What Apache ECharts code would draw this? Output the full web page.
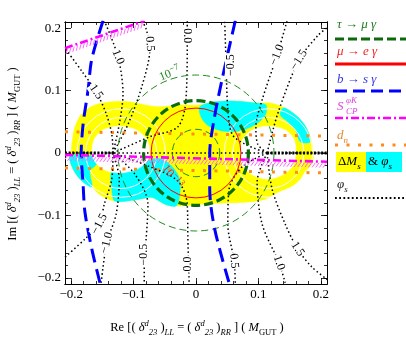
<!DOCTYPE html>
<html>
<head>
<meta charset="utf-8">
<script src="https://cdn.jsdelivr.net/npm/echarts@6/dist/echarts.min.js"></script>
<style>
  html, body { margin: 0; padding: 0; background: #fff; }
  #chart { width: 406px; height: 343px; }
</style>
</head>
<body>
<div id="chart"></div>
<script>
// axis ticks
const majorTicks = [-0.2, -0.1, 0, 0.1, 0.2]
const minorTicks = [-0.2, -0.18, -0.16, -0.14, -0.12, -0.1, -0.08, -0.06, -0.04, -0.02, 0,
  0.02, 0.04, 0.06, 0.08, 0.1, 0.12, 0.14, 0.16, 0.18, 0.2]

// Delta M_s allowed region (yellow) and Delta M_s & phi_s (cyan)
const yellowOutline = [[-0.200, 0], [-0.199, 0.014], [-0.194, 0.042], [-0.183, 0.063], [-0.162, 0.077],
  [-0.135, 0.082], [-0.107, 0.082], [-0.082, 0.077], [-0.058, 0.074], [-0.026, 0.077], [0.006, 0.077],
  [0.030, 0.082], [0.066, 0.083], [0.095, 0.080], [0.119, 0.080], [0.143, 0.072], [0.162, 0.059],
  [0.176, 0.042], [0.184, 0.022], [0.188, 0], [0.186, -0.018], [0.175, -0.029], [0.167, -0.042],
  [0.154, -0.053], [0.131, -0.063], [0.111, -0.074], [0.079, -0.079], [0.046, -0.080], [0.006, -0.082],
  [-0.029, -0.085], [-0.050, -0.082], [-0.071, -0.071], [-0.091, -0.074], [-0.130, -0.077],
  [-0.154, -0.067], [-0.167, -0.054], [-0.183, -0.045], [-0.197, -0.026], [-0.202, -0.010]]
const cyanUpperMid = [[0.006, 0.074], [0.030, 0.082], [0.066, 0.083], [0.095, 0.080], [0.112, 0.077],
  [0.112, 0.063], [0.099, 0.048], [0.079, 0.038], [0.058, 0.034], [0.035, 0.037], [0.018, 0.045], [0.008, 0.058]]
const cyanRightEdge = [[0.143, 0.072], [0.162, 0.059], [0.176, 0.042], [0.183, 0.018], [0.167, 0.018],
  [0.159, 0.038], [0.146, 0.051], [0.135, 0.061], [0.138, 0.071]]
const cyanLeftEdge = [[-0.202, -0.005], [-0.165, -0.005], [-0.160, -0.018], [-0.170, -0.029],
  [-0.167, -0.054], [-0.183, -0.045], [-0.197, -0.026]]
const cyanLowerMid = [[-0.135, -0.029], [-0.114, -0.022], [-0.090, -0.018], [-0.071, -0.010],
  [-0.054, -0.010], [-0.038, -0.022], [-0.026, -0.042], [-0.026, -0.066], [-0.032, -0.085],
  [-0.050, -0.082], [-0.071, -0.071], [-0.091, -0.074], [-0.130, -0.077], [-0.135, -0.058]]
// white holes of the two lobes
const holeLeft = [[-0.167, 0], [-0.163, 0.022], [-0.149, 0.037], [-0.125, 0.043], [-0.098, 0.038],
  [-0.079, 0.022], [-0.074, 0], [-0.079, -0.014], [-0.095, -0.026], [-0.122, -0.032], [-0.147, -0.027], [-0.162, -0.014]]
const holeRight = [[0.071, 0], [0.075, 0.022], [0.090, 0.037], [0.115, 0.043], [0.143, 0.037],
  [0.157, 0.022], [0.160, 0], [0.155, -0.021], [0.139, -0.035], [0.115, -0.042], [0.090, -0.035], [0.075, -0.021]]
// white Delta M_s contours [cx, cy, r]
const regionContours = [[-0.120, 0, 0.057], [-0.120, 0, 0.071], [0.116, 0, 0.057], [0.116, 0, 0.071]]

// tau -> mu gamma and mu -> e gamma circles [cx, cy, r]
const tauMuThin = [[0, 0, 0.038], [0, 0, 0.125]]
const tauMuThick = [[0, 0, 0.084]]
const muEGamma = [[0, 0, 0.072]]

// b -> s gamma
const bsgLeft = [[-0.149, 0.212], [-0.167, 0.151], [-0.173, 0.101], [-0.181, 0.046], [-0.184, 0],
  [-0.181, -0.050], [-0.178, -0.095], [-0.167, -0.154], [-0.154, -0.208]]
const bsgRight = [[0.063, 0.212], [0.042, 0.119], [0.029, 0.054], [0.022, 0], [0.022, -0.058],
  [0.030, -0.122], [0.053, -0.208]]

// S_CP^phiK bounds
const scpMain = [[-0.21, -0.003], [0.21, -0.014]]
const scpCorner = [[-0.210, 0.168], [-0.082, 0.212]]

// d_n bounds
const dnUpper = [[-0.21, 0.034], [0.21, 0.027]]
const dnLower = [[-0.21, -0.024], [0.21, -0.032]]

// phi_s contours
const phiAxis = [[-0.21, 0], [0.21, 0]]
const phiAxisLeft = [[-0.21, 0], [-0.133, 0]]
const phiAxisRight = [[0.114, 0], [0.21, 0]]
const phiContours = [
  [[-0.133, 0], [-0.135, 0.030], [-0.144, 0.063], [-0.160, 0.098], [-0.183, 0.131], [-0.210, 0.168]],
  [[-0.133, 0], [-0.123, 0.046], [-0.117, 0.095], [-0.125, 0.154], [-0.147, 0.212]],
  [[-0.133, 0], [-0.109, 0.046], [-0.087, 0.106], [-0.074, 0.167], [-0.080, 0.199], [-0.087, 0.212]],
  [[-0.133, 0], [-0.074, 0.026], [-0.029, 0.042], [-0.016, 0.087], [-0.014, 0.188], [-0.014, 0.212]],
  [[0.114, 0], [0.079, 0.014], [0.058, 0.030], [0.051, 0.071], [0.048, 0.151], [0.046, 0.212]],
  [[0.114, 0], [0.099, 0.014], [0.096, 0.042], [0.106, 0.085], [0.130, 0.157], [0.146, 0.212]],
  [[0.114, 0], [0.131, 0.063], [0.165, 0.149], [0.196, 0.189], [0.212, 0.202]],
  [[-0.133, 0], [-0.135, -0.042], [-0.147, -0.082], [-0.155, -0.114], [-0.178, -0.138], [-0.210, -0.167]],
  [[-0.133, 0], [-0.123, -0.042], [-0.128, -0.098], [-0.143, -0.144], [-0.152, -0.208]],
  [[-0.133, 0], [-0.098, -0.034], [-0.077, -0.082], [-0.080, -0.138], [-0.083, -0.163], [-0.083, -0.208]],
  [[-0.133, 0], [-0.074, -0.022], [-0.029, -0.045], [-0.014, -0.082], [-0.013, -0.138], [-0.011, -0.208]],
  [[0.114, 0], [0.074, -0.022], [0.053, -0.058], [0.051, -0.114], [0.061, -0.173], [0.063, -0.208]],
  [[0.114, 0], [0.098, -0.046], [0.106, -0.114], [0.133, -0.176], [0.143, -0.208]],
  [[0.114, 0], [0.122, -0.058], [0.143, -0.114], [0.163, -0.154], [0.186, -0.183], [0.212, -0.204]]
]
const phiLabelText = ['1.5', '1.0', '0.5', '0.0', '−0.5', '−1.0', '−1.5',
  '−1.5', '−1.0', '−0.5', '0.0', '0.5', '1.0', '1.5']
const phiLabelPos = [[-0.160, 0.098], [-0.125, 0.154], [-0.074, 0.175], [-0.014, 0.188],
  [0.056, 0.141], [0.130, 0.157], [0.165, 0.149],
  [-0.155, -0.114], [-0.143, -0.144], [-0.083, -0.163], [-0.013, -0.178],
  [0.061, -0.173], [0.133, -0.176], [0.163, -0.154]]
const phiLabelAngle = [-55, -68, -84, -90, 90, 68, 58, 62, 75, 90, 90, -85, -70, -57]

const serif = '"Liberation Serif", "DejaVu Serif", serif'

const chart = echarts.init(document.getElementById('chart'))

function fmtTick (v) {
  if (v === 0) return '0'
  return (v < 0 ? '−' : '') + Math.abs(v).toFixed(1)
}

function axis (pos, ticks, len, showLabel) {
  return {
    type: 'value',
    position: pos,
    min: -0.21,
    max: 0.21,
    axisLine: { show: true, onZero: false, lineStyle: { color: '#000', width: 1 } },
    splitLine: { show: false },
    axisTick: { show: true, inside: true, length: len, customValues: ticks, lineStyle: { color: '#000', width: 0.8 } },
    axisLabel: {
      show: showLabel,
      customValues: majorTicks,
      formatter: fmtTick,
      margin: 4,
      color: '#000',
      fontFamily: serif,
      fontSize: 13
    }
  }
}

function polygonSeries (pts, color, z) {
  return {
    type: 'custom',
    coordinateSystem: 'cartesian2d',
    clip: true,
    silent: true,
    z: z,
    data: [pts[0]],
    renderItem: (params, api) => ({
      type: 'polygon',
      shape: { points: pts.map(p => api.coord(p)), smooth: 0.3 },
      style: { fill: color, stroke: color, lineWidth: 0.5 }
    })
  }
}

function circleSeries (circles, fill, stroke, width, dash, z) {
  return {
    type: 'custom',
    coordinateSystem: 'cartesian2d',
    clip: true,
    silent: true,
    z: z,
    data: circles,
    renderItem: (params, api) => {
      const c = api.coord([api.value(0), api.value(1)])
      const r = api.size([api.value(2), 0])[0]
      return {
        type: 'circle',
        shape: { cx: c[0], cy: c[1], r: r },
        style: { fill: fill, stroke: stroke, lineWidth: width, lineDash: dash }
      }
    }
  }
}

function lineSeries (pts, color, width, dash, cap, z, smooth) {
  return {
    type: 'line',
    data: pts,
    symbol: 'none',
    smooth: smooth || false,
    silent: true,
    clip: true,
    z: z,
    lineStyle: { color: color, width: width, type: dash, cap: cap }
  }
}

function hatchSeries (seg, z) {
  return {
    type: 'custom',
    coordinateSystem: 'cartesian2d',
    clip: true,
    silent: true,
    z: z,
    data: [seg[0]],
    renderItem: (params, api) => {
      const a = api.coord(seg[0])
      const b = api.coord(seg[1])
      const dx = b[0] - a[0]
      const dy = b[1] - a[1]
      const L = Math.hypot(dx, dy)
      const ux = dx / L
      const uy = dy / L
      let nx = -uy
      let ny = ux
      if (ny < 0) { nx = -nx; ny = -ny }
      const children = []
      for (let s = 2; s < L; s += 3.6) {
        const px = a[0] + ux * s
        const py = a[1] + uy * s
        children.push({
          type: 'line',
          shape: { x1: px + nx * 1.5, y1: py + ny * 1.5, x2: px + nx * 6 - ux * 3, y2: py + ny * 6 - uy * 3 },
          style: { stroke: '#ff66ff', lineWidth: 1 }
        })
      }
      return { type: 'group', children: children }
    }
  }
}

const dotted = [1.5, 2.6]
const series = [
  polygonSeries(yellowOutline, '#ffff00', 1),
  polygonSeries(cyanUpperMid, '#00ffff', 2),
  polygonSeries(cyanRightEdge, '#00ffff', 2),
  polygonSeries(cyanLeftEdge, '#00ffff', 2),
  polygonSeries(cyanLowerMid, '#00ffff', 2),
  polygonSeries(holeLeft, '#ffffff', 3),
  polygonSeries(holeRight, '#ffffff', 3),
  circleSeries(regionContours, 'none', '#ffffff', 1, null, 4),
  lineSeries(dnUpper, '#ff8c1a', 3, [3, 8.5], 'butt', 5),
  lineSeries(dnLower, '#ff8c1a', 3, [3, 8.5], 'butt', 5),
  lineSeries(phiAxis, '#000', 1.5, dotted, 'butt', 6),
  lineSeries(phiAxisLeft, '#000', 3, [2, 1.6], 'butt', 6),
  lineSeries(phiAxisRight, '#000', 3, [2, 1.6], 'butt', 6)
]
phiContours.forEach(c => series.push(lineSeries(c, '#000', 1.5, dotted, 'butt', 6, 0.3)))
series.push(
  circleSeries(tauMuThin, 'none', '#1f8a1f', 1, [7, 4], 7),
  circleSeries(tauMuThick, 'none', '#0b6b0b', 3.2, [9, 4], 7),
  circleSeries(muEGamma, 'none', '#ff0000', 1, null, 7),
  lineSeries(bsgLeft, '#0000ff', 3, [14, 7], 'butt', 8, 0.3),
  lineSeries(bsgRight, '#0000ff', 3, [14, 7], 'butt', 8, 0.3),
  hatchSeries(scpMain, 9),
  hatchSeries(scpCorner, 9),
  lineSeries(scpMain, '#ff00ff', 2.6, [8, 3, 2, 3], 'butt', 9),
  lineSeries(scpCorner, '#ff00ff', 2.6, [8, 3, 2, 3], 'butt', 9),
  {
    type: 'custom',
    coordinateSystem: 'cartesian2d',
    silent: true,
    z: 10,
    data: phiLabelPos,
    renderItem: (params, api) => {
      const p = api.coord([api.value(0), api.value(1)])
      return {
        type: 'text',
        x: p[0],
        y: p[1],
        rotation: phiLabelAngle[params.dataIndex] * Math.PI / 180,
        style: {
          text: phiLabelText[params.dataIndex],
          fill: '#000',
          font: '12px ' + serif,
          align: 'center',
          verticalAlign: 'middle',
          backgroundColor: '#fff',
          padding: [0, 1]
        }
      }
    }
  },
  {
    type: 'custom',
    coordinateSystem: 'cartesian2d',
    silent: true,
    z: 10,
    data: [[-0.042, 0.127], [-0.038, -0.038]],
    renderItem: (params, api) => {
      const p = api.coord([api.value(0), api.value(1)])
      const green = params.dataIndex === 0
      const col = green ? '#228b22' : '#ff2020'
      return {
        type: 'text',
        x: p[0],
        y: p[1],
        rotation: (green ? 22 : -52) * Math.PI / 180,
        style: {
          text: green ? '{a|10}{b|−7}' : '{a|10}{b|−13}',
          align: 'center',
          verticalAlign: 'middle',
          rich: {
            a: { fill: col, fontFamily: serif, fontSize: 12, lineHeight: 16 },
            b: { fill: col, fontFamily: serif, fontSize: 9, lineHeight: 10, verticalAlign: 'top' }
          }
        }
      }
    }
  }
)

const rich = {
  n: { fill: '#000', fontFamily: serif, fontSize: 12.5, lineHeight: 18 },
  i: { fill: '#000', fontFamily: serif, fontSize: 12.5, fontStyle: 'italic', lineHeight: 18 },
  sp: { fill: '#000', fontFamily: serif, fontSize: 8.5, fontStyle: 'italic', lineHeight: 10, verticalAlign: 'top' },
  sb: { fill: '#000', fontFamily: serif, fontSize: 8.5, fontStyle: 'italic', lineHeight: 10, verticalAlign: 'bottom' },
  su: { fill: '#000', fontFamily: serif, fontSize: 8.5, lineHeight: 10, verticalAlign: 'bottom' }
}
const delta = '{i|δ}{sp|d}{sb|23}'
const xTitle = '{n|Re [( }' + delta + '{n| )}{sb|LL}{n| = ( }' + delta + '{n| )}{sb|RR}{n| ] ( }{i|M}{su|GUT}{n| )}'
const yTitle = '{n|Im [( }' + delta + '{n| )}{sb|LL}{n| = ( }' + delta + '{n| )}{sb|RR}{n| ] ( }{i|M}{su|GUT}{n| )}'

function legendText (x, y, text, color) {
  const r = {}
  Object.keys(rich).forEach(k => { r[k] = Object.assign({}, rich[k], { fill: color, fontSize: rich[k].fontSize + 0.5 }) })
  return { type: 'text', x: x, y: y, z: 20, style: { text: text, rich: r, verticalAlign: 'middle' } }
}
function legendLine (y, color, width, dash) {
  return { type: 'line', z: 20, shape: { x1: 335, y1: y, x2: 406, y2: y }, style: { stroke: color, lineWidth: width, lineDash: dash } }
}

const graphic = [
  { type: 'text', x: 197, y: 328, style: { text: xTitle, rich: rich, align: 'center', verticalAlign: 'middle' } },
  { type: 'text', x: 13, y: 154, rotation: Math.PI / 2, style: { text: yTitle, rich: rich, align: 'center', verticalAlign: 'middle' } },
  legendText(337, 25, '{i|τ}{n| → }{i|μ γ}', '#1f7a1f'),
  legendLine(39, '#0b6b0b', 3.2, [9, 4]),
  legendText(337, 52, '{i|μ}{n| → }{i|e γ}', '#ee2222'),
  legendLine(64, '#ff0000', 3, null),
  legendText(337, 80, '{i|b}{n| → }{i|s γ}', '#3535e0'),
  legendLine(91, '#0000ff', 3, [12, 6]),
  legendText(337, 107, '{i|S}', '#e040e0'),
  legendText(346, 101, '{sp|φK}', '#e040e0'),
  legendText(346, 111, '{sb|CP}', '#e040e0'),
  legendLine(118, '#ff00ff', 2.6, [8, 3, 2, 3]),
  legendText(337, 136, '{i|d}{sb|n}', '#e8862a'),
  legendLine(145, '#ff8c1a', 3, [3, 8.5]),
  { type: 'rect', z: 19, shape: { x: 336, y: 152, width: 30, height: 20 }, style: { fill: '#ffff00' } },
  { type: 'rect', z: 19, shape: { x: 366, y: 152, width: 36, height: 20 }, style: { fill: '#00ffff' } },
  legendText(338, 162, '{n|Δ}{i|M}{sb|s}', '#000'),
  legendText(368, 162, '{n|& }{i|φ}{sb|s}', '#000'),
  legendText(337, 185, '{i|φ}{sb|s}', '#222'),
  legendLine(198, '#000', 1.8, [1.8, 2.4])
]

chart.setOption({
  animation: false,
  grid: { left: 65, right: 79, top: 22, bottom: 59, outerBoundsMode: 'none' },
  xAxis: [axis('bottom', majorTicks, 6, true), axis('top', majorTicks, 6, false),
    axis('bottom', minorTicks, 3, false), axis('top', minorTicks, 3, false)],
  yAxis: [axis('left', majorTicks, 6, true), axis('right', majorTicks, 6, false),
    axis('left', minorTicks, 3, false), axis('right', minorTicks, 3, false)],
  series: series,
  graphic: graphic
})
</script>
</body>
</html>
